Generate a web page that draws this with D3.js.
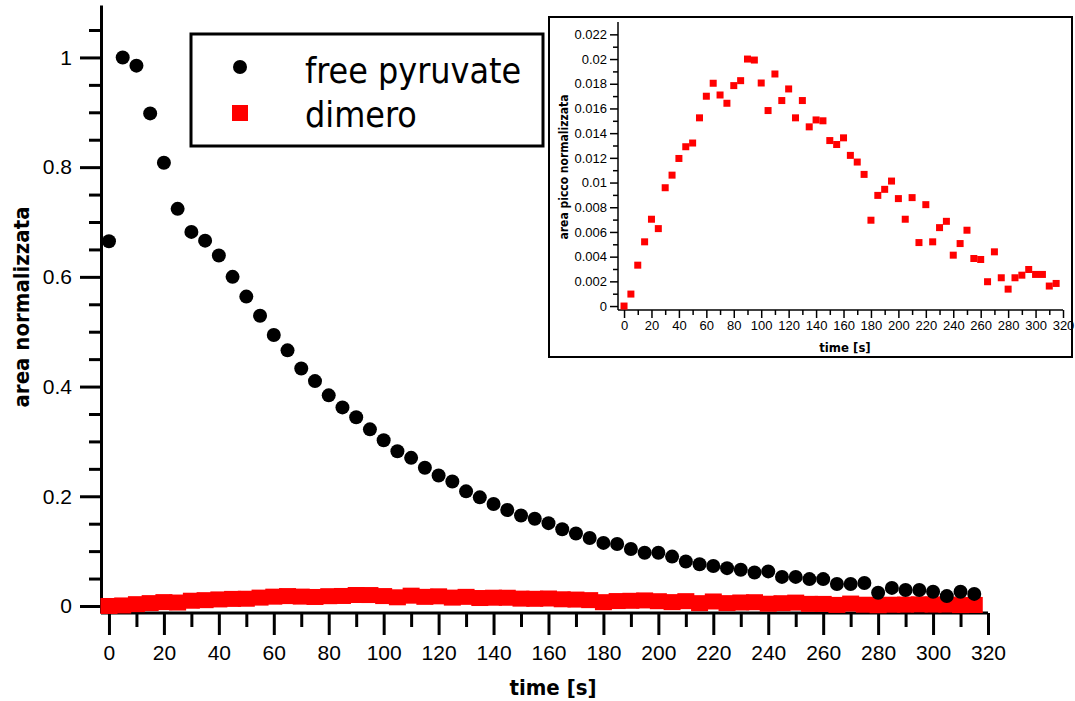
<!DOCTYPE html>
<html><head><meta charset="utf-8">
<script src="https://cdn.jsdelivr.net/npm/d3@7"></script>
<style>
html,body{margin:0;padding:0;background:#fff;}
svg{display:block;font-family:"DejaVu Sans Condensed","DejaVu Sans",sans-serif;}
</style></head>
<body>
<svg id="c" width="1075" height="701"></svg>
<script>
// ---- data ----
const times = d3.range(0, 320, 5); // 0..315 s
const freePyruvate = [0.665,1.0,0.985,0.898,0.808,0.724,0.682,0.666,0.639,0.600,0.564,0.529,0.494,0.466,0.433,0.410,
  0.384,0.362,0.344,0.322,0.302,0.282,0.270,0.252,0.238,0.227,0.209,0.198,0.186,0.175,0.165,0.159,
  0.151,0.140,0.132,0.124,0.115,0.113,0.104,0.097,0.097,0.090,0.081,0.076,0.073,0.069,0.066,0.061,
  0.063,0.053,0.053,0.049,0.049,0.040,0.040,0.042,0.024,0.033,0.029,0.029,0.026,0.018,0.026,0.022];
const dimero = [0,0.00097,0.00331,0.0052,0.00703,0.00627,0.00958,0.0106,0.01195,0.0129,0.0132,0.01524,0.01699,0.01804,0.01709,0.01642,
  0.01785,0.01825,0.0200,0.01992,0.01806,0.01583,0.01879,0.01664,0.01758,0.01524,0.01664,0.01451,0.01507,0.01500,0.0134,0.01308,
  0.01362,0.0122,0.01166,0.01066,0.00695,0.00896,0.00945,0.01012,0.0087,0.00703,0.00878,0.00514,0.00821,0.0052,0.00635,0.00686,
  0.00412,0.00506,0.00614,0.00385,0.00377,0.00197,0.00439,0.00229,0.00137,0.00229,0.0025,0.00296,0.00256,0.00256,0.00162,0.00183];
const seriesNames = ["free pyruvate", "dimero"];
const mainXTicks = d3.range(0, 321, 20);
const mainXLabels = mainXTicks.map(String);
const mainXMinor = d3.range(10, 320, 20);
const mainYTicks = [0, 0.2, 0.4, 0.6, 0.8, 1];
const mainYLabels = ["0", "0.2", "0.4", "0.6", "0.8", "1"];
const mainYMinor = [0.05,0.1,0.15,0.25,0.3,0.35,0.45,0.5,0.55,0.65,0.7,0.75,0.85,0.9,0.95,1.05];
const insetXTicks = d3.range(0, 321, 20);
const insetXLabels = insetXTicks.map(String);
const insetXMinor = d3.range(10, 320, 20);
const insetYTicks = [0,0.002,0.004,0.006,0.008,0.01,0.012,0.014,0.016,0.018,0.02,0.022];
const insetYLabels = ["0","0.002","0.004","0.006","0.008","0.01","0.012","0.014","0.016","0.018","0.02","0.022"];
const insetYMinor = [0.001,0.003,0.005,0.007,0.009,0.011,0.013,0.015,0.017,0.019,0.021];

const svg = d3.select("#c");

// ---- main plot ----
const x = d3.scaleLinear().domain([-2.9, 320]).range([101, 988]);
const y = d3.scaleLinear().domain([-0.0128, 1.0956]).range([613, 5]);

function styleAxis(g, w) {
  g.select(".domain").attr("stroke", "#000").attr("stroke-width", w);
  g.selectAll(".tick line").attr("stroke", "#000").attr("stroke-width", w);
  g.selectAll(".tick text").attr("fill", "#000").attr("font-family", null);
}

// minor ticks
svg.append("g").attr("transform", "translate(101,0)")
  .call(d3.axisLeft(y).tickValues(mainYMinor).tickSize(12).tickFormat(""))
  .call(g => { g.select(".domain").remove(); g.selectAll(".tick line").attr("stroke","#000").attr("stroke-width",3); });
svg.append("g").attr("transform", "translate(0,613)")
  .call(d3.axisBottom(x).tickValues(mainXMinor).tickSize(14).tickFormat(""))
  .call(g => { g.select(".domain").remove(); g.selectAll(".tick line").attr("stroke","#000").attr("stroke-width",3); });

const yAx = svg.append("g").attr("transform", "translate(101,0)")
  .call(d3.axisLeft(y).tickValues(mainYTicks).tickSizeInner(21).tickSizeOuter(0).tickPadding(8)
    .tickFormat((d, i) => mainYLabels[i]));
styleAxis(yAx, 3);
yAx.selectAll(".tick text").attr("font-size", 21);

const xAx = svg.append("g").attr("transform", "translate(0,613)")
  .call(d3.axisBottom(x).tickValues(mainXTicks).tickSizeInner(22).tickSizeOuter(0).tickPadding(10)
    .tickFormat((d, i) => mainXLabels[i]));
styleAxis(xAx, 3);
xAx.selectAll(".tick text").attr("font-size", 21);
xAx.select(".domain").attr("d", "M101,0H988");

svg.append("text").attr("x", 553).attr("y", 695).attr("text-anchor", "middle")
  .attr("font-weight", "bold").attr("font-size", 22).text("time [s]");
svg.append("text").attr("transform", "translate(29,307) rotate(-90)").attr("text-anchor", "middle")
  .attr("font-weight", "bold").attr("font-size", 22).text("area normalizzata");

// dimero squares (main)
const sqW = 17, sqH = 16;
svg.append("g").selectAll("rect").data(times).join("rect")
  .attr("x", (t) => x(t) - sqW / 2).attr("y", (t, i) => y(dimero[i]) - sqH / 2)
  .attr("width", sqW).attr("height", sqH).attr("fill", "#ff0000");
// free pyruvate circles
svg.append("g").selectAll("circle").data(times).join("circle")
  .attr("cx", (t) => x(t)).attr("cy", (t, i) => y(freePyruvate[i])).attr("r", 7).attr("fill", "#000");

// legend
const lg = svg.append("g");
lg.append("rect").attr("x", 191).attr("y", 34).attr("width", 352).attr("height", 112)
  .attr("fill", "#fff").attr("stroke", "#000").attr("stroke-width", 3);
lg.append("circle").attr("cx", 240).attr("cy", 67).attr("r", 7).attr("fill", "#000");
lg.append("rect").attr("x", 232).attr("y", 105).attr("width", 16).attr("height", 16).attr("fill", "#ff0000");
lg.append("text").attr("x", 305).attr("y", 83).attr("font-size", 35.5).text(seriesNames[0]);
lg.append("text").attr("x", 305).attr("y", 127).attr("font-size", 35.5).text(seriesNames[1]);

// ---- inset ----
const ins = svg.append("g");
ins.append("rect").attr("x", 549).attr("y", 17).attr("width", 523).attr("height", 340)
  .attr("fill", "#fff").attr("stroke", "#000").attr("stroke-width", 2);
const ix = d3.scaleLinear().domain([-4.4, 320]).range([618, 1063]);
const iy = d3.scaleLinear().domain([-0.00032, 0.023]).range([310, 22]);

ins.append("g").attr("transform", "translate(618,0)")
  .call(d3.axisLeft(iy).tickValues(insetYMinor).tickSize(5).tickFormat(""))
  .call(g => { g.select(".domain").remove(); g.selectAll(".tick line").attr("stroke","#000").attr("stroke-width",1.5); });
ins.append("g").attr("transform", "translate(0,310)")
  .call(d3.axisBottom(ix).tickValues(insetXMinor).tickSize(5).tickFormat(""))
  .call(g => { g.select(".domain").remove(); g.selectAll(".tick line").attr("stroke","#000").attr("stroke-width",1.5); });

const iyAx = ins.append("g").attr("transform", "translate(618,0)")
  .call(d3.axisLeft(iy).tickValues(insetYTicks).tickSizeInner(8).tickSizeOuter(0).tickPadding(3)
    .tickFormat((d, i) => insetYLabels[i]));
styleAxis(iyAx, 1.5);
iyAx.selectAll(".tick text").attr("font-size", 13);
iyAx.select(".domain").attr("d", "M0,22V310");

const ixAx = ins.append("g").attr("transform", "translate(0,310)")
  .call(d3.axisBottom(ix).tickValues(insetXTicks).tickSizeInner(8).tickSizeOuter(0).tickPadding(3)
    .tickFormat((d, i) => insetXLabels[i]));
styleAxis(ixAx, 1.5);
ixAx.selectAll(".tick text").attr("font-size", 13);
ixAx.select(".domain").attr("d", "M618,0H1063");

ins.append("text").attr("x", 845).attr("y", 352).attr("text-anchor", "middle")
  .attr("font-weight", "bold").attr("font-size", 13).text("time [s]");
ins.append("text").attr("transform", "translate(568,167) rotate(-90)").attr("text-anchor", "middle")
  .attr("font-weight", "bold").attr("font-size", 12).text("area picco normalizzata");

const isq = 7;
ins.append("g").selectAll("rect").data(times).join("rect")
  .attr("x", (t) => ix(t) - isq / 2).attr("y", (t, i) => iy(dimero[i]) - isq / 2)
  .attr("width", isq).attr("height", isq).attr("fill", "#ff0000");
</script>
</body></html>
